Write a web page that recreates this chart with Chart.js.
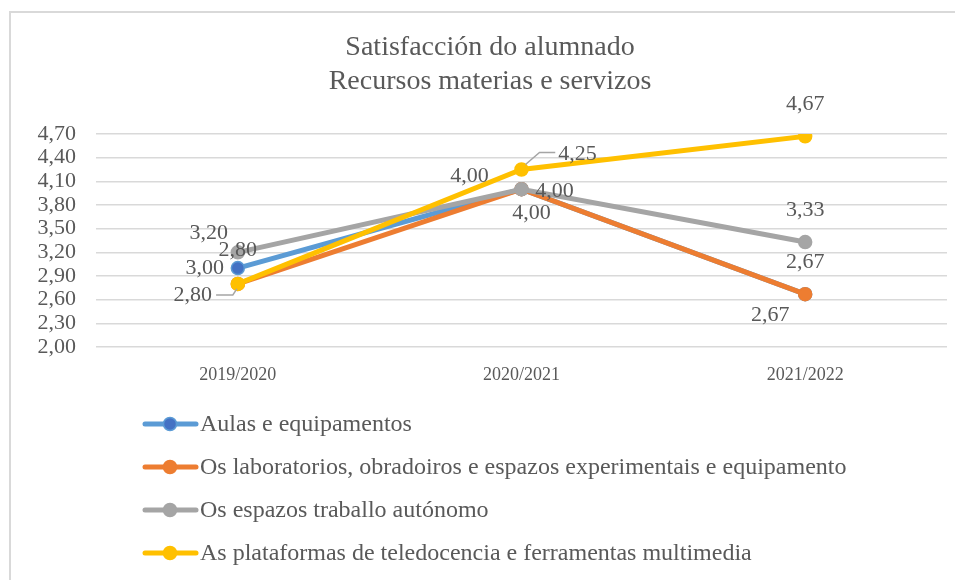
<!DOCTYPE html>
<html>
<head>
<meta charset="utf-8">
<script src="https://cdn.jsdelivr.net/npm/chart.js@4/dist/chart.umd.min.js"></script>
<style>
  html, body { margin: 0; padding: 0; background: #fff; }
  .frame { position: absolute; left: 9px; top: 11px; width: 1000px; height: 700px; border: 2px solid #d9d9d9; box-sizing: border-box; }
  .wrap { position: absolute; left: 0; top: 0; width: 955px; height: 580px; }
</style>
</head>
<body>
<div class="frame"></div>
<div class="wrap"><canvas id="chart" width="955" height="580"></canvas></div>
<script>
const categories = ['2019/2020', '2020/2021', '2021/2022'];
const seriesNames = [
  'Aulas e equipamentos',
  'Os laboratorios, obradoiros e espazos experimentais e equipamento',
  'Os espazos traballo autónomo',
  'As plataformas de teledocencia e ferramentas multimedia'
];
const aulas = [3.00, 4.00, 2.67];
const laboratorios = [2.80, 4.00, 2.67];
const espazos = [3.20, 4.00, 3.33];
const plataformas = [2.80, 4.25, 4.67];
const yTicks = [2.00, 2.30, 2.60, 2.90, 3.20, 3.50, 3.80, 4.10, 4.40, 4.70];

const FONT = '"Liberation Serif", "DejaVu Serif", serif';
const TEXT = '#595959';
const lineColors = ['#5B9BD5', '#ED7D31', '#A5A5A5', '#FFC000'];
const pointFills = ['#4472C4', '#ED7D31', '#A5A5A5', '#FFC000'];

// label offsets from each point [dx, dy], and which labels get a leader line
const labelOffsets = [
  [[-33, 0], [-52, -13], [0, -32]],
  [[0, -34], [10, 24], [-35, 21]],
  [[-29, -19], [33, 2], [0, -32]],
  [[-45, 11], [56, -15], [0, -32]]
];
const leaders = { '3-0': true, '3-1': true };

const fmt = (v) => v.toFixed(2).replace('.', ',');

const dataLabels = {
  id: 'dataLabels',
  afterDatasetsDraw(chart) {
    const ctx = chart.ctx;
    ctx.save();
    ctx.font = '22px ' + FONT;
    ctx.fillStyle = TEXT;
    ctx.textAlign = 'center';
    ctx.textBaseline = 'middle';
    chart.data.datasets.forEach((ds, i) => {
      const meta = chart.getDatasetMeta(i);
      meta.data.forEach((pt, j) => {
        const off = labelOffsets[i][j];
        const lx = pt.x + off[0];
        const ly = pt.y + off[1];
        const text = fmt(ds.data[j]);
        if (leaders[i + '-' + j]) {
          const w = ctx.measureText(text).width;
          ctx.strokeStyle = '#A5A5A5';
          ctx.lineWidth = 1.5;
          ctx.beginPath();
          if (off[0] < 0) {
            ctx.moveTo(lx + w / 2 + 4, ly);
            ctx.lineTo(pt.x - 5, ly);
            ctx.lineTo(pt.x - 1, pt.y + 5);
          } else {
            ctx.moveTo(pt.x + 4, pt.y - 5);
            ctx.lineTo(pt.x + 18, ly - 2);
            ctx.lineTo(lx - w / 2 - 3, ly - 2);
          }
          ctx.stroke();
        }
        ctx.fillText(text, lx, ly);
      });
    });
    ctx.restore();
  }
};

const sideLegend = {
  id: 'sideLegend',
  afterDraw(chart) {
    const ctx = chart.ctx;
    ctx.save();
    ctx.font = '24px ' + FONT;
    ctx.textBaseline = 'middle';
    ctx.textAlign = 'left';
    chart.data.datasets.forEach((ds, i) => {
      const y = 424 + i * 43;
      ctx.strokeStyle = ds.borderColor;
      ctx.lineWidth = 5;
      ctx.lineCap = 'round';
      ctx.beginPath();
      ctx.moveTo(145, y);
      ctx.lineTo(196, y);
      ctx.stroke();
      ctx.beginPath();
      ctx.arc(170, y, 6.5, 0, Math.PI * 2);
      ctx.fillStyle = ds.pointBackgroundColor;
      ctx.fill();
      ctx.lineWidth = 1.5;
      ctx.strokeStyle = ds.pointBorderColor;
      ctx.stroke();
      ctx.fillStyle = TEXT;
      ctx.fillText(ds.label, 200, y + 1);
    });
    ctx.restore();
  }
};

const seriesValues = [aulas, laboratorios, espazos, plataformas];

new Chart(document.getElementById('chart'), {
  type: 'line',
  data: {
    labels: categories,
    datasets: seriesValues.map((vals, i) => ({
      label: seriesNames[i],
      data: vals,
      borderColor: lineColors[i],
      backgroundColor: lineColors[i],
      pointBackgroundColor: pointFills[i],
      pointBorderColor: lineColors[i],
      pointBorderWidth: 1.5,
      pointRadius: 6.5,
      borderWidth: 5,
      tension: 0,
      order: 4 - i
    }))
  },
  options: {
    responsive: false,
    animation: false,
    events: [],
    layout: { padding: { left: 32, right: 7, top: 0, bottom: 183 } },
    plugins: {
      legend: { display: false },
      tooltip: { enabled: false },
      title: {
        display: true,
        text: ['Satisfacción do alumnado', 'Recursos materias e servizos'],
        color: TEXT,
        font: { family: FONT, size: 28, weight: 'normal', lineHeight: 1.2 },
        padding: { top: 31, bottom: 35.8 }
      }
    },
    scales: {
      x: {
        offset: true,
        grid: { display: false, drawTicks: false },
        border: { display: false },
        ticks: { color: TEXT, padding: 17, font: { family: FONT, size: 18 } },
        afterFit(scale) { scale.height = 50; }
      },
      y: {
        min: 2.0,
        max: 4.7,
        afterBuildTicks(scale) { scale.ticks = yTicks.map((v) => ({ value: v })); },
        grid: { color: '#D9D9D9', lineWidth: 1.5, drawTicks: false },
        border: { display: false },
        ticks: {
          autoSkip: false,
          color: TEXT,
          padding: 20,
          font: { family: FONT, size: 22 },
          callback: (v) => fmt(v)
        },
        afterFit(scale) { scale.width = 64; }
      }
    }
  },
  plugins: [dataLabels, sideLegend]
});
</script>
</body>
</html>
